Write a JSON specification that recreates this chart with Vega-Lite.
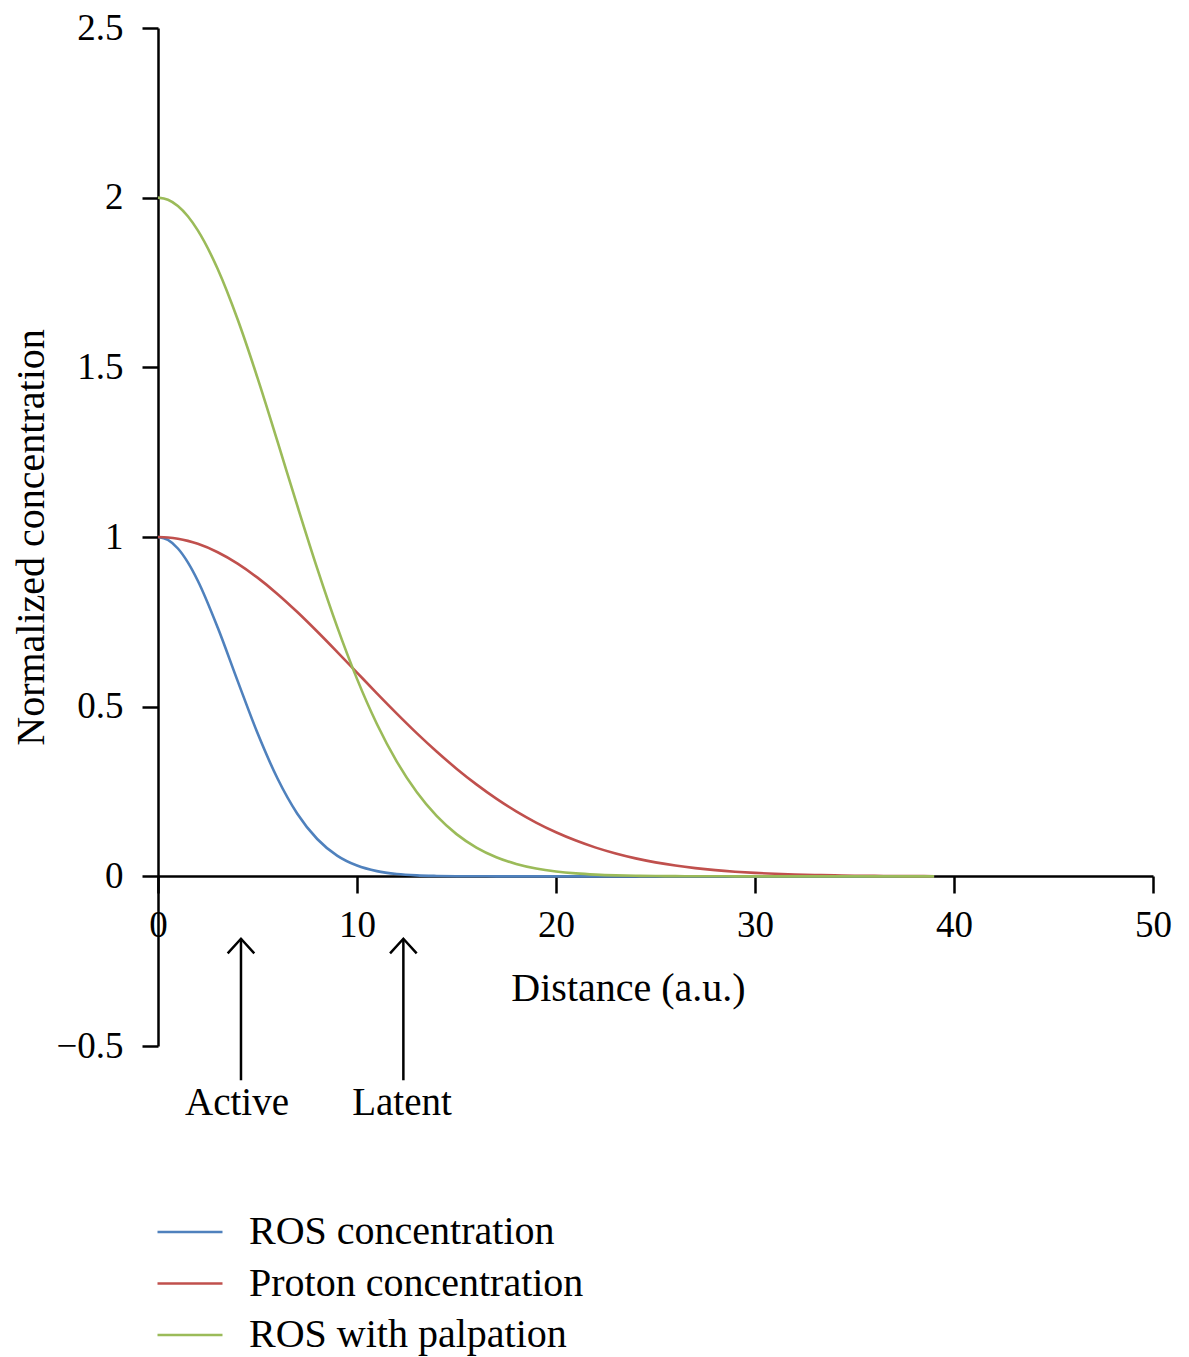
{
  "$schema": "https://vega.github.io/schema/vega-lite/v6.json",
  "description": "Normalized concentration against distance for ROS, protons and ROS with palpation.",
  "width": 995,
  "height": 1018,
  "autosize": "none",
  "padding": {"left": 158, "top": 28, "right": 36, "bottom": 311},
  "config": {
    "font": "Liberation Serif",
    "view": {"stroke": null},
    "legend": {"padding": 0}
  },
  "datasets": {
    "curves": [
      {"distance": 0, "value": 1.0, "series": "ROS concentration"},
      {"distance": 0.5, "value": 0.9914, "series": "ROS concentration"},
      {"distance": 1, "value": 0.9661, "series": "ROS concentration"},
      {"distance": 1.5, "value": 0.9253, "series": "ROS concentration"},
      {"distance": 2, "value": 0.8712, "series": "ROS concentration"},
      {"distance": 3, "value": 0.7332, "series": "ROS concentration"},
      {"distance": 4, "value": 0.576, "series": "ROS concentration"},
      {"distance": 5, "value": 0.4223, "series": "ROS concentration"},
      {"distance": 6, "value": 0.289, "series": "ROS concentration"},
      {"distance": 7, "value": 0.1846, "series": "ROS concentration"},
      {"distance": 8, "value": 0.11, "series": "ROS concentration"},
      {"distance": 9, "value": 0.0612, "series": "ROS concentration"},
      {"distance": 10, "value": 0.0318, "series": "ROS concentration"},
      {"distance": 11, "value": 0.0154, "series": "ROS concentration"},
      {"distance": 12, "value": 0.007, "series": "ROS concentration"},
      {"distance": 13, "value": 0.0029, "series": "ROS concentration"},
      {"distance": 14, "value": 0.0012, "series": "ROS concentration"},
      {"distance": 15, "value": 0.0004, "series": "ROS concentration"},
      {"distance": 16, "value": 0.0001, "series": "ROS concentration"},
      {"distance": 17, "value": 0, "series": "ROS concentration"},
      {"distance": 18, "value": 0, "series": "ROS concentration"},
      {"distance": 19, "value": 0, "series": "ROS concentration"},
      {"distance": 20, "value": 0, "series": "ROS concentration"},
      {"distance": 21, "value": 0, "series": "ROS concentration"},
      {"distance": 22, "value": 0, "series": "ROS concentration"},
      {"distance": 23, "value": 0, "series": "ROS concentration"},
      {"distance": 24, "value": 0, "series": "ROS concentration"},
      {"distance": 25, "value": 0, "series": "ROS concentration"},
      {"distance": 26, "value": 0, "series": "ROS concentration"},
      {"distance": 27, "value": 0, "series": "ROS concentration"},
      {"distance": 28, "value": 0, "series": "ROS concentration"},
      {"distance": 29, "value": 0, "series": "ROS concentration"},
      {"distance": 30, "value": 0, "series": "ROS concentration"},
      {"distance": 31, "value": 0, "series": "ROS concentration"},
      {"distance": 32, "value": 0, "series": "ROS concentration"},
      {"distance": 33, "value": 0, "series": "ROS concentration"},
      {"distance": 34, "value": 0, "series": "ROS concentration"},
      {"distance": 35, "value": 0, "series": "ROS concentration"},
      {"distance": 36, "value": 0, "series": "ROS concentration"},
      {"distance": 37, "value": 0, "series": "ROS concentration"},
      {"distance": 38, "value": 0, "series": "ROS concentration"},
      {"distance": 39, "value": 0, "series": "ROS concentration"},
      {"distance": 0, "value": 1.0, "series": "Proton concentration"},
      {"distance": 0.5, "value": 0.9987, "series": "Proton concentration"},
      {"distance": 1, "value": 0.9949, "series": "Proton concentration"},
      {"distance": 1.5, "value": 0.9886, "series": "Proton concentration"},
      {"distance": 2, "value": 0.9798, "series": "Proton concentration"},
      {"distance": 3, "value": 0.9551, "series": "Proton concentration"},
      {"distance": 4, "value": 0.9216, "series": "Proton concentration"},
      {"distance": 5, "value": 0.8802, "series": "Proton concentration"},
      {"distance": 6, "value": 0.8322, "series": "Proton concentration"},
      {"distance": 7, "value": 0.7788, "series": "Proton concentration"},
      {"distance": 8, "value": 0.7214, "series": "Proton concentration"},
      {"distance": 9, "value": 0.6615, "series": "Proton concentration"},
      {"distance": 10, "value": 0.6004, "series": "Proton concentration"},
      {"distance": 11, "value": 0.5394, "series": "Proton concentration"},
      {"distance": 12, "value": 0.4797, "series": "Proton concentration"},
      {"distance": 13, "value": 0.4222, "series": "Proton concentration"},
      {"distance": 14, "value": 0.3679, "series": "Proton concentration"},
      {"distance": 15, "value": 0.3173, "series": "Proton concentration"},
      {"distance": 16, "value": 0.2709, "series": "Proton concentration"},
      {"distance": 17, "value": 0.2289, "series": "Proton concentration"},
      {"distance": 18, "value": 0.1914, "series": "Proton concentration"},
      {"distance": 19, "value": 0.1585, "series": "Proton concentration"},
      {"distance": 20, "value": 0.1299, "series": "Proton concentration"},
      {"distance": 21, "value": 0.1054, "series": "Proton concentration"},
      {"distance": 22, "value": 0.0846, "series": "Proton concentration"},
      {"distance": 23, "value": 0.0673, "series": "Proton concentration"},
      {"distance": 24, "value": 0.0529, "series": "Proton concentration"},
      {"distance": 25, "value": 0.0412, "series": "Proton concentration"},
      {"distance": 26, "value": 0.0318, "series": "Proton concentration"},
      {"distance": 27, "value": 0.0243, "series": "Proton concentration"},
      {"distance": 28, "value": 0.0183, "series": "Proton concentration"},
      {"distance": 29, "value": 0.0137, "series": "Proton concentration"},
      {"distance": 30, "value": 0.0101, "series": "Proton concentration"},
      {"distance": 31, "value": 0.0074, "series": "Proton concentration"},
      {"distance": 32, "value": 0.0054, "series": "Proton concentration"},
      {"distance": 33, "value": 0.0039, "series": "Proton concentration"},
      {"distance": 34, "value": 0.0027, "series": "Proton concentration"},
      {"distance": 35, "value": 0.0019, "series": "Proton concentration"},
      {"distance": 36, "value": 0.0013, "series": "Proton concentration"},
      {"distance": 37, "value": 0.0009, "series": "Proton concentration"},
      {"distance": 38, "value": 0.0006, "series": "Proton concentration"},
      {"distance": 39, "value": 0.0004, "series": "Proton concentration"},
      {"distance": 0, "value": 2.0, "series": "ROS with palpation"},
      {"distance": 0.5, "value": 1.9938, "series": "ROS with palpation"},
      {"distance": 1, "value": 1.9755, "series": "ROS with palpation"},
      {"distance": 1.5, "value": 1.9452, "series": "ROS with palpation"},
      {"distance": 2, "value": 1.9036, "series": "ROS with palpation"},
      {"distance": 3, "value": 1.7897, "series": "ROS with palpation"},
      {"distance": 4, "value": 1.6415, "series": "ROS with palpation"},
      {"distance": 5, "value": 1.4689, "series": "ROS with palpation"},
      {"distance": 6, "value": 1.2824, "series": "ROS with palpation"},
      {"distance": 7, "value": 1.0922, "series": "ROS with palpation"},
      {"distance": 8, "value": 0.9076, "series": "ROS with palpation"},
      {"distance": 9, "value": 0.7358, "series": "ROS with palpation"},
      {"distance": 10, "value": 0.5819, "series": "ROS with palpation"},
      {"distance": 11, "value": 0.449, "series": "ROS with palpation"},
      {"distance": 12, "value": 0.338, "series": "ROS with palpation"},
      {"distance": 13, "value": 0.2483, "series": "ROS with palpation"},
      {"distance": 14, "value": 0.1779, "series": "ROS with palpation"},
      {"distance": 15, "value": 0.1244, "series": "ROS with palpation"},
      {"distance": 16, "value": 0.0848, "series": "ROS with palpation"},
      {"distance": 17, "value": 0.0564, "series": "ROS with palpation"},
      {"distance": 18, "value": 0.0366, "series": "ROS with palpation"},
      {"distance": 19, "value": 0.0232, "series": "ROS with palpation"},
      {"distance": 20, "value": 0.0143, "series": "ROS with palpation"},
      {"distance": 21, "value": 0.0086, "series": "ROS with palpation"},
      {"distance": 22, "value": 0.0051, "series": "ROS with palpation"},
      {"distance": 23, "value": 0.0029, "series": "ROS with palpation"},
      {"distance": 24, "value": 0.0016, "series": "ROS with palpation"},
      {"distance": 25, "value": 0.0009, "series": "ROS with palpation"},
      {"distance": 26, "value": 0.0005, "series": "ROS with palpation"},
      {"distance": 27, "value": 0.0002, "series": "ROS with palpation"},
      {"distance": 28, "value": 0.0001, "series": "ROS with palpation"},
      {"distance": 29, "value": 0, "series": "ROS with palpation"},
      {"distance": 30, "value": 0, "series": "ROS with palpation"},
      {"distance": 31, "value": 0, "series": "ROS with palpation"},
      {"distance": 32, "value": 0, "series": "ROS with palpation"},
      {"distance": 33, "value": 0, "series": "ROS with palpation"},
      {"distance": 34, "value": 0, "series": "ROS with palpation"},
      {"distance": 35, "value": 0, "series": "ROS with palpation"},
      {"distance": 36, "value": 0, "series": "ROS with palpation"},
      {"distance": 37, "value": 0, "series": "ROS with palpation"},
      {"distance": 38, "value": 0, "series": "ROS with palpation"},
      {"distance": 39, "value": 0, "series": "ROS with palpation"}
    ],
    "arrows": [
      {"distance": 4.17, "value": -0.601, "tip": -0.184},
      {"distance": 12.33, "value": -0.601, "tip": -0.184}
    ],
    "heads": [
      {"distance": 4.17, "value": -0.184},
      {"distance": 12.33, "value": -0.184}
    ],
    "labels": [
      {"distance": 3.97, "value": -0.704, "label": "Active"},
      {"distance": 12.26, "value": -0.704, "label": "Latent"}
    ]
  },
  "encoding": {
    "x": {
      "field": "distance",
      "type": "quantitative",
      "scale": {"domain": [0, 50], "nice": false, "zero": false},
      "axis": {
        "title": "Distance (a.u.)",
        "values": [0, 10, 20, 30, 40, 50],
        "offset": -170,
        "grid": false,
        "domainColor": "black",
        "domainWidth": 2.5,
        "tickColor": "black",
        "tickWidth": 2.5,
        "tickSize": 17,
        "labelFont": "Liberation Serif",
        "labelFontSize": 37,
        "labelColor": "black",
        "labelPadding": 14,
        "labelFlush": false,
        "labelOverlap": false,
        "titleFont": "Liberation Serif",
        "titleFontSize": 40,
        "titleFontWeight": "normal",
        "titleColor": "black",
        "titleX": 470,
        "titleY": 124,
        "titleAlign": "center",
        "titleBaseline": "alphabetic"
      }
    },
    "y": {
      "field": "value",
      "type": "quantitative",
      "scale": {"domain": [-0.5, 2.5], "nice": false, "zero": false},
      "axis": {
        "title": "Normalized concentration",
        "values": [-0.5, 0, 0.5, 1, 1.5, 2, 2.5],
        "format": "~g",
        "grid": false,
        "domainColor": "black",
        "domainWidth": 2.5,
        "tickColor": "black",
        "tickWidth": 2.5,
        "tickSize": 16,
        "labelFont": "Liberation Serif",
        "labelFontSize": 37,
        "labelColor": "black",
        "labelPadding": 19,
        "labelFlush": false,
        "labelOverlap": false,
        "titleFont": "Liberation Serif",
        "titleFontSize": 40,
        "titleFontWeight": "normal",
        "titleColor": "black",
        "titleAngle": 270,
        "titleX": -115,
        "titleY": 509,
        "titleAlign": "center",
        "titleBaseline": "alphabetic"
      }
    }
  },
  "layer": [
    {
      "data": {"name": "curves"},
      "mark": {"type": "line", "interpolate": "monotone", "strokeWidth": 2.6},
      "encoding": {
        "color": {
          "field": "series",
          "type": "nominal",
          "scale": {
            "domain": ["ROS concentration", "Proton concentration", "ROS with palpation"],
            "range": ["#4F81BD", "#C0504D", "#9BBB59"]
          },
          "legend": {
            "orient": "none",
            "legendX": 12,
            "legendY": 1184,
            "title": null,
            "symbolType": "M-2,0L2,0",
            "symbolSize": 1056,
            "symbolStrokeWidth": 2.6,
            "labelFont": "Liberation Serif",
            "labelFontSize": 40,
            "labelColor": "black",
            "labelOffset": 39,
            "labelLimit": 0,
            "rowPadding": 11.5
          }
        }
      }
    },
    {
      "data": {"name": "arrows"},
      "mark": {"type": "rule", "color": "black", "strokeWidth": 2.5},
      "encoding": {
        "y2": {"field": "tip"}
      }
    },
    {
      "data": {"name": "heads"},
      "mark": {
        "type": "point",
        "shape": "M-1,1.1L0,0L1,1.1",
        "size": 708,
        "filled": false,
        "stroke": "black",
        "strokeWidth": 2.5,
        "opacity": 1
      }
    },
    {
      "data": {"name": "labels"},
      "mark": {
        "type": "text",
        "font": "Liberation Serif",
        "fontSize": 39,
        "color": "black",
        "align": "center",
        "baseline": "alphabetic"
      },
      "encoding": {
        "text": {"field": "label"}
      }
    }
  ]
}
